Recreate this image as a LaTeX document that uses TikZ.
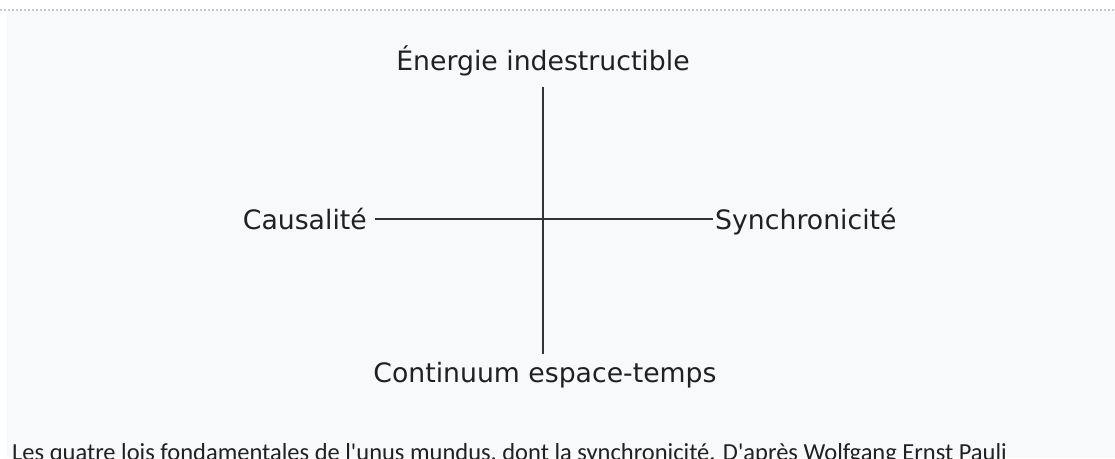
\documentclass[tikz,border=0pt]{standalone}
\usepackage{fontspec}
\setmainfont{DejaVu Sans}
\newfontfamily\captionfont{Carlito}
\definecolor{panelbg}{HTML}{F8F9FA}
\definecolor{dotcol}{HTML}{C8CCD1}
\definecolor{inkcol}{HTML}{202122}
\definecolor{linecol}{HTML}{333333}
\begin{document}
\begin{tikzpicture}[x=1pt,y=-1pt,
  lbl/.style={inner sep=0pt, text=inkcol, font=\fontsize{26.7}{30}\selectfont},
  axis/.style={draw=linecol, line width=1.4pt},
  captext/.style={inner sep=0pt, text=inkcol, font=\captionfont\fontsize{24.5}{28}\selectfont}]
\useasboundingbox (0,0) rectangle (1115,458);
\fill[white] (0,0) rectangle (1115,458);
\fill[panelbg] (7,11) rectangle (1115,458);
\draw[dotcol, line width=1.5pt, dash pattern=on 1.5pt off 2.5pt] (0,10) -- (1115,10);
\node[lbl, anchor=base] (top) at (543,70) {Énergie indestructible};
\node[lbl, anchor=base] (bot) at (545,382) {Continuum espace-temps};
\node[lbl, anchor=base east] (caus) at (367,229.5) {Causalité};
\node[lbl, anchor=base west] (sync) at (715,229.5) {Synchronicité};
\draw[axis, shorten <=11pt, shorten >=8pt] (top.south) -- (top.south |- bot.north);
\draw[axis, shorten <=8pt, shorten >=2pt] (caus.east) -- (caus.east -| sync.west);
\node[captext, anchor=base west] (cap) at (12,460.5) {Les quatre lois fondamentales de l'unus mundus, dont la synchronicité. D'après Wolfgang Ernst Pauli};
\end{tikzpicture}
\end{document}
